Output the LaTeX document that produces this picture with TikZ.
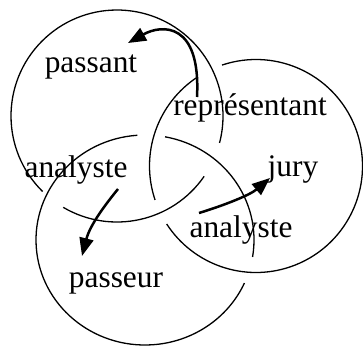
\documentclass[tikz,border=0pt]{standalone}
\usepackage{fontspec}
\setmainfont{Liberation Serif}
\usetikzlibrary{arrows.meta}
\begin{document}
\begin{tikzpicture}[x={(1pt,0)},y={(0,-1pt)},
  ring/.style={line width=1.3pt},
  flow/.style={line width=2.5pt,-{Triangle[length=18pt,width=14pt]}},
  word/.style={anchor=base,inner sep=0pt,font=\fontsize{31.4}{36}\selectfont}]
\useasboundingbox (0,0) rectangle (363,346);
% circle A (top-left)
\draw[ring] (117,116) ++(134.6:106) arc[start angle=134.6,end angle=374.7,radius=106];
\draw[ring] (117,116) ++(34.7:106) arc[start angle=34.7,end angle=120.5,radius=106];
% circle B (right)
\draw[ring] (256,166) ++(251.4:106.5) arc[start angle=251.4,end angle=507,radius=106.5];
\draw[ring] (256,166) ++(161.4:106.5) arc[start angle=161.4,end angle=236.8,radius=106.5];
% circle C (bottom-left)
\draw[ring] (145,240) ++(266:109 and 105) arc[start angle=266,end angle=24.2,x radius=109,y radius=105];
\draw[ring] (145,240) ++(280.6:109 and 105) arc[start angle=280.6,end angle=369.3,x radius=109,y radius=105];
% labels
\node[word] (passant) at (91,72) {passant};
\node[word] (repr) at (250,115) {représentant};
\node[word] (anaL) at (76,177) {analyste};
\node[word] (jury) at (293,176) {jury};
\node[word] (anaR) at (241,237) {analyste};
\node[word] (passeur) at (116,287) {passeur};
% arrow ends
\coordinate (s1) at (197,97);
\coordinate (t1) at (128,43);
\coordinate (s2) at (118,189);
\coordinate (t2) at (82,256);
\coordinate (s3) at (199,213);
\coordinate (t3) at (270,178);
\draw[flow] (s1) .. controls (201,22) and (162,24) .. (t1);
\draw[flow] (s2) .. controls (105,205) and (90,225) .. (t2);
\draw[flow] (s3) .. controls (225,205) and (250,195) .. (t3);
\end{tikzpicture}
\end{document}
